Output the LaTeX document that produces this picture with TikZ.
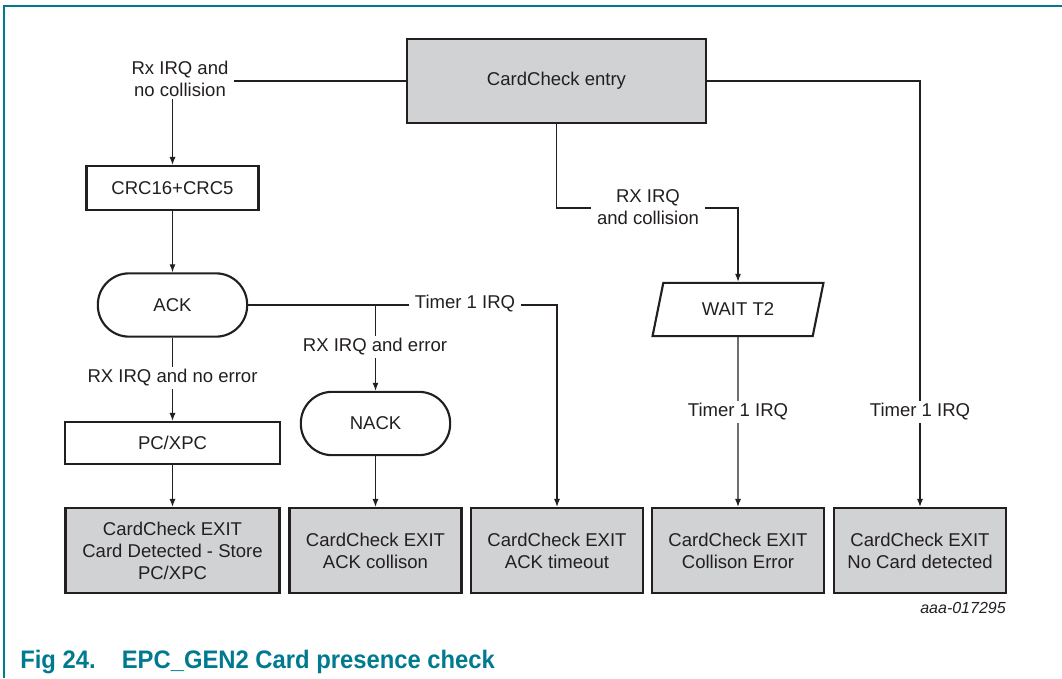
\documentclass[tikz,border=0pt]{standalone}
\usepackage{fontspec}
\setmainfont{Liberation Sans}
\usepackage{tikz}
\usetikzlibrary{shapes,arrows.meta}
\usepackage{graphicx}
\definecolor{nxpteal}{RGB}{0,122,143}
\definecolor{boxgray}{RGB}{209,210,212}
\definecolor{ink}{RGB}{35,31,32}

\begin{document}
\begin{tikzpicture}[x=0.75pt,y=-0.75pt]
  \tikzstyle{every node}=[font=\fontsize{13.9}{16.5}\selectfont,text=ink]
  \tikzstyle{state}=[rectangle,draw=ink,line width=1.6pt,align=center,inner sep=0pt]
  \tikzstyle{exitbox}=[state,fill=boxgray,minimum width=129pt,minimum height=63.75pt]
  \tikzstyle{proc}=[state,fill=white,minimum height=32pt]
  \tikzstyle{term}=[state,fill=white,rounded corners=23.5pt,minimum width=112pt,minimum height=47.5pt]
  \tikzstyle{io}=[state,trapezium,fill=white,trapezium left angle=68,trapezium right angle=112,trapezium stretches=true,minimum width=129pt,minimum height=40pt]
  \tikzstyle{flow}=[draw=ink,line width=0.8pt]
  \tikzstyle{arr}=[flow,-{Latex[length=6pt,width=4.5pt]}]
  \tikzstyle{cond}=[fill=white,inner xsep=4.5pt,inner ysep=2pt,align=center]

  \useasboundingbox (0,0) rectangle (1062,678);
  \draw[nxpteal,line width=0.9pt] (4,678) -- (4,6) -- (1062,6);

  \node[state,fill=boxgray,minimum width=224.25pt,minimum height=63pt] (entry) at (556.5,81) {CardCheck entry};
  \node[proc,minimum width=129pt,minimum height=33pt] (crc) at (172.5,188) {CRC16+CRC5};
  \node[term] (ack) at (172.5,305) {ACK};
  \node[term] (nack) at (375.5,423.5) {NACK};
  \node[proc,minimum width=161pt,minimum height=31.5pt] (pcxpc) at (172.5,443) {PC/XPC};
  \node[io] (wait) at (738,309.5) {WAIT T2};

  \node[exitbox,minimum width=160.5pt] (exitA) at (172.5,550.5) {CardCheck EXIT\\Card Detected - Store\\PC/XPC};
  \node[exitbox] (exitB) at (375.5,550.5) {CardCheck EXIT\\ACK collison};
  \node[exitbox] (exitC) at (557,550.5) {CardCheck EXIT\\ACK timeout};
  \node[exitbox] (exitD) at (738,550.5) {CardCheck EXIT\\Collison Error};
  \node[exitbox] (exitE) at (920,550.5) {CardCheck EXIT\\No Card detected};

  \coordinate (split) at (556.5,208);
  \draw[arr] (entry.west) -| (crc.north);
  \draw[arr] (crc.south) -- (ack.north);
  \draw[arr] (ack.east) -| (exitC.north);
  \draw[arr] (nack.north |- ack.east) -- (nack.north);
  \draw[arr] (ack.south) -- (pcxpc.north);
  \draw[arr] (pcxpc.south) -- (exitA.north);
  \draw[arr] (nack.south) -- (exitB.north);
  \draw[arr] (entry.south) -- (split) -| (wait.north);
  \draw[arr] (wait.south) -- (exitD.north);
  \draw[arr] (entry.east) -| (exitE.north);

  \node[cond] (rxnocoll) at (180,79) {Rx IRQ and\\no collision};
  \node[cond] (rxcoll) at (648,207.5) {RX IRQ\\and collision};
  \node[cond] (ackto) at (465,304) {Timer 1 IRQ};
  \node[cond] (rxerr) at (375,347) {RX IRQ and error};
  \node[cond] (rxok) at (172.5,378) {RX IRQ and no error};
  \node[cond] (waitto) at (738,412) {Timer 1 IRQ};
  \node[cond] (nocard) at (920,412) {Timer 1 IRQ};

  \node[anchor=east,inner sep=0pt,font=\fontsize{12}{14}\selectfont\itshape] (figid) at (1006,608) {aaa-017295};
  \node[anchor=west,inner sep=0pt,text=nxpteal,font=\fontsize{19}{22}\selectfont\bfseries] (caption) at (20,662)
    {\resizebox{356pt}{\height}{Fig 24.\hspace{1.1em}EPC\_GEN2 Card presence check}};
\end{tikzpicture}
\end{document}
